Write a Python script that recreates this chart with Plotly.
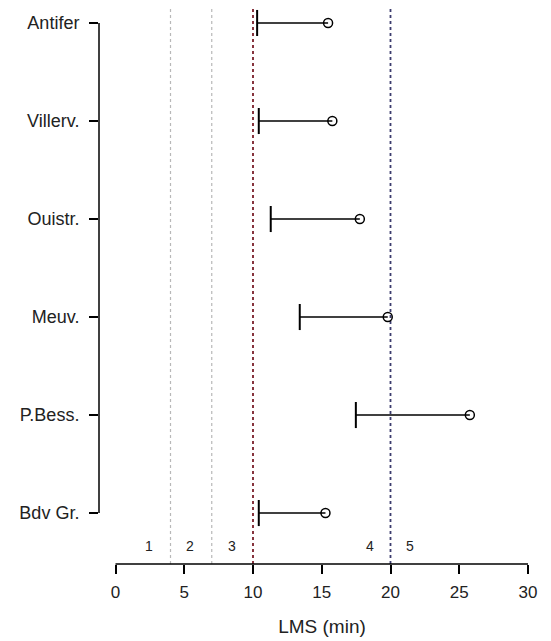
import plotly.graph_objects as go

sites = ["Antifer", "Villerv.", "Ouistr.", "Meuv.", "P.Bess.", "Bdv Gr."]
lms_start = [10.30, 10.42, 11.29, 13.40, 17.48, 10.42]
lms_end = [15.46, 15.77, 17.77, 19.80, 25.77, 15.27]
y_pos = [6, 5, 4, 3, 2, 1]

grey_thresholds = [4, 7]
red_threshold = 10
blue_threshold = 20

zone_labels = ["1", "2", "3", "4", "5"]
zone_x = [2.4, 5.4, 8.5, 18.5, 21.4]
zone_y = 0.665

x_ticks = [0, 5, 10, 15, 20, 25, 30]

FONT = "Liberation Sans, Arial, sans-serif"

fig = go.Figure()

# horizontal segments
sx, sy = [], []
for a, b, y in zip(lms_start, lms_end, y_pos):
    sx += [a, b, None]
    sy += [y, y, None]
fig.add_trace(go.Scatter(x=sx, y=sy, mode="lines",
                         line=dict(color="black", width=1.5),
                         hoverinfo="skip", showlegend=False))

# end bars at start
bx, by = [], []
h = 0.133
for a, y in zip(lms_start, y_pos):
    bx += [a, a, None]
    by += [y - h, y + h, None]
fig.add_trace(go.Scatter(x=bx, y=by, mode="lines",
                         line=dict(color="black", width=2),
                         hoverinfo="skip", showlegend=False))

# open circles at end
fig.add_trace(go.Scatter(x=lms_end, y=y_pos, mode="markers",
                         marker=dict(symbol="circle-open", size=9,
                                     color="black", line=dict(width=1.5)),
                         showlegend=False))

shapes = []
for t in grey_thresholds:
    shapes.append(dict(type="line", xref="x", yref="paper", x0=t, x1=t, y0=0, y1=1,
                       line=dict(color="#b8b8b8", width=1.2, dash="dot"), layer="below"))
shapes.append(dict(type="line", xref="x", yref="paper", x0=red_threshold, x1=red_threshold,
                   y0=0, y1=1, line=dict(color="#7a1f2a", width=1.8, dash="dot"), layer="below"))
shapes.append(dict(type="line", xref="x", yref="paper", x0=blue_threshold, x1=blue_threshold,
                   y0=0, y1=1, line=dict(color="#3c3c6e", width=1.8, dash="dot"), layer="below"))
# x axis line from 0 to 30
shapes.append(dict(type="line", xref="x", yref="paper", x0=x_ticks[0], x1=x_ticks[-1],
                   y0=0, y1=0, line=dict(color="black", width=1.5)))
# y axis line from first to last site
shapes.append(dict(type="line", xref="paper", yref="y", x0=0, x1=0,
                   y0=min(y_pos), y1=max(y_pos), line=dict(color="black", width=1.5)))

annotations = []
for lab, zx in zip(zone_labels, zone_x):
    annotations.append(dict(x=zx, y=zone_y, xref="x", yref="y", text=lab, showarrow=False,
                            font=dict(family=FONT, size=14, color="#222")))

fig.update_layout(
    width=543, height=633,
    margin=dict(l=91, r=6, t=0, b=77),
    plot_bgcolor="white", paper_bgcolor="white",
    shapes=shapes, annotations=annotations,
    xaxis=dict(range=[-1.2, 31.236], tickvals=x_ticks, ticktext=[str(v) for v in x_ticks],
               ticks="outside", ticklen=9, tickwidth=1.5, tickcolor="black",
               showline=False, showgrid=False, zeroline=False, automargin=False,
               ticklabelstandoff=4,
               tickfont=dict(family=FONT, size=17, color="#222"),
               title=dict(text="LMS (min)", font=dict(family=FONT, size=19, color="#222"),
                          standoff=18)),
    yaxis=dict(range=[0.48, 6.153], tickvals=y_pos, ticktext=sites,
               ticks="outside", ticklen=9, tickwidth=1.5, tickcolor="black",
               showline=False, showgrid=False, zeroline=False, automargin=False,
               ticklabelstandoff=6,
               tickfont=dict(family=FONT, size=18, color="#222")),
)

fig.write_html("out.html")
